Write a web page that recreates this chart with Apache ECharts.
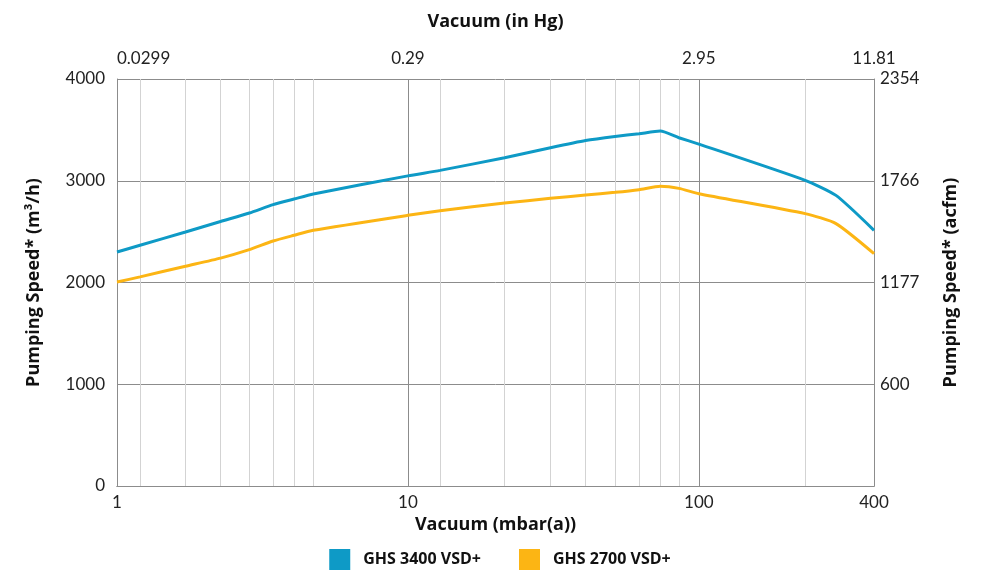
<!DOCTYPE html>
<html>
<head>
<meta charset="utf-8">
<script src="https://cdn.jsdelivr.net/npm/echarts@6/dist/echarts.min.js"></script>
<style>
html,body{margin:0;padding:0;background:#fff;}
#chart{width:1000px;height:587px;}
</style>
</head>
<body>
<div id="chart"></div>
<script>
// Vacuum in mbar(a)
var vacuumMbar = [1, 1.2, 1.72, 2.27, 2.85, 3.44, 4.06, 4.73, 10, 12.9, 21.5, 30.9, 40.8, 51.5, 62.3, 73.7, 85.4, 100, 232, 296, 400];
// Pumping speed m3/h
var ghs3400 = [2300, 2366, 2496, 2600, 2683, 2765, 2820, 2870, 3048, 3102, 3226, 3325, 3396, 3436, 3462, 3488, 3423, 3360, 3004, 2856, 2513];
var ghs2700 = [2005, 2055, 2160, 2240, 2323, 2408, 2464, 2513, 2660, 2705, 2781, 2827, 2860, 2886, 2912, 2945, 2925, 2873, 2677, 2579, 2284];
// minor vertical grid positions (mbar)
var minorGrid = [1.2, 1.72, 2.27, 2.85, 3.44, 4.06, 4.73, 12.9, 21.5, 30.9, 40.8, 51.5, 62.3, 73.7, 85.4, 232];
// top axis (in Hg) labels at mbar ticks
var topTicksMbar = [1, 10, 100, 400];
var topLabelsInHg = ['0.0299', '0.29', '2.95', '11.81'];
// left axis (m3/h) and right axis (acfm) labels
var leftTicks = [0, 1000, 2000, 3000, 4000];
var leftLabels = ['0', '1000', '2000', '3000', '4000'];
var rightLabelsAcfm = ['', '600', '1177', '1766', '2354'];

var FONT = 'Lato';
var BOLD = 'Open Sans';
var AXIS_GRAY = '#8c8c8c';

function pairs(xs, ys){ return xs.map(function(x,i){ return [x, ys[i]]; }); }
function lookup(ticks, labels, v){
  for (var i=0;i<ticks.length;i++){ if (Math.abs(ticks[i]-v) <= 1e-6*Math.max(1,Math.abs(ticks[i]))) return labels[i]; }
  return '';
}
var nameStyle = {fontFamily: BOLD, fontWeight: 'bold', fontSize: 18, color: '#111'};

var chart = echarts.init(document.getElementById('chart'));
chart.setOption({
  animation: false,
  textStyle: {fontFamily: FONT},
  grid: {left: 117, right: 126, top: 79, bottom: 101},
  legend: {
    top: 544, left: 'center', icon: 'rect', itemWidth: 21, itemHeight: 21, itemGap: 38,
    textStyle: {fontFamily: BOLD, fontWeight: 'bold', fontSize: 16, color: '#111', padding: [0,0,0,8]},
    data: ['GHS 3400 VSD+', 'GHS 2700 VSD+']
  },
  xAxis: [
    {
      type: 'log', logBase: 10, min: 1, max: 400, position: 'bottom',
      name: 'Vacuum (mbar(a))', nameLocation: 'middle', nameGap: 30,
      nameTextStyle: nameStyle,
      axisLine: {show: true, lineStyle: {color: AXIS_GRAY, width: 1}},
      axisTick: {show: false},
      axisLabel: {fontFamily: FONT, fontSize: 17, color: '#222', margin: 8},
      splitLine: {show: true, lineStyle: {color: AXIS_GRAY, width: 1}}
    },
    {
      type: 'log', logBase: 10, min: 1, max: 400, position: 'top',
      name: 'Vacuum (in Hg)', nameLocation: 'middle', nameGap: 48,
      nameTextStyle: nameStyle,
      axisLine: {show: true, lineStyle: {color: AXIS_GRAY, width: 1}},
      axisTick: {show: false},
      axisLabel: {fontFamily: FONT, fontSize: 17, color: '#222', margin: 12, alignMinLabel: 'left',
        formatter: function(v){ return lookup(topTicksMbar, topLabelsInHg, v); }},
      splitLine: {show: false}
    }
  ],
  yAxis: [
    {
      type: 'value', min: 0, max: 4000, interval: 1000, position: 'left',
      name: 'Pumping Speed* (m³/h)', nameLocation: 'middle', nameGap: 74, nameRotate: 90,
      nameTextStyle: nameStyle,
      axisLine: {show: true, lineStyle: {color: AXIS_GRAY, width: 1}},
      axisTick: {show: false},
      axisLabel: {fontFamily: FONT, fontSize: 17, color: '#222', margin: 12,
        formatter: function(v){ return lookup(leftTicks, leftLabels, v); }},
      splitLine: {show: true, lineStyle: {color: AXIS_GRAY, width: 1}}
    },
    {
      type: 'value', min: 0, max: 4000, interval: 1000, position: 'right',
      name: 'Pumping Speed* (acfm)', nameLocation: 'middle', nameGap: 68, nameRotate: 90,
      nameTextStyle: Object.assign({verticalAlign: 'top'}, nameStyle),
      axisLine: {show: true, lineStyle: {color: AXIS_GRAY, width: 1}},
      axisTick: {show: false},
      axisLabel: {fontFamily: FONT, fontSize: 17, color: '#222', margin: 6,
        formatter: function(v){ return lookup(leftTicks, rightLabelsAcfm, v); }},
      splitLine: {show: false}
    }
  ],
  series: [
    {
      name: 'GHS 3400 VSD+', type: 'line', xAxisIndex: 0, yAxisIndex: 0,
      data: pairs(vacuumMbar, ghs3400), showSymbol: false, symbol: 'none', smooth: 0.2,
      lineStyle: {color: '#0e9ac6', width: 3}, itemStyle: {color: '#0e9ac6'}, z: 3,
      markLine: {
        silent: true, z: 1, symbol: ['none','none'], label: {show: false},
        lineStyle: {color: '#d3d3d3', type: 'solid', width: 1},
        emphasis: {disabled: true},
        data: minorGrid.map(function(v){ return {xAxis: v}; })
      }
    },
    {
      name: 'GHS 2700 VSD+', type: 'line', xAxisIndex: 0, yAxisIndex: 0,
      data: pairs(vacuumMbar, ghs2700), showSymbol: false, symbol: 'none', smooth: 0.2,
      lineStyle: {color: '#fcb514', width: 3}, itemStyle: {color: '#fcb514'}, z: 3
    }
  ]
});
</script>
</body>
</html>
